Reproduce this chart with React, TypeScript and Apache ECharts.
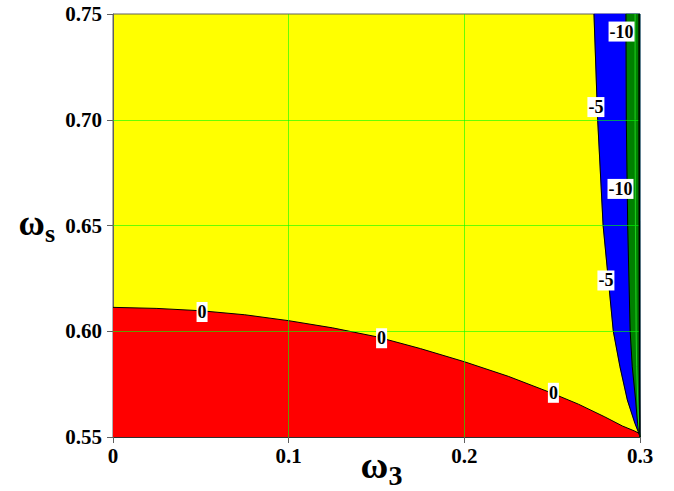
import React, { useEffect, useRef } from 'react';
import * as echarts from 'echarts';

const FONT = '"Liberation Serif", "Times New Roman", serif';

// axes
const xMin = 0;
const xMax = 0.3;
const xStep = 0.1;
const yMin = 0.55;
const yMax = 0.75;
const yStep = 0.05;
const xGridValues = [0.1, 0.2];
const yGridValues = [0.6, 0.65, 0.7];

// level 0 contour (red / yellow boundary): omega3 -> omegaS
const zeroX = [0, 0.025, 0.05, 0.075, 0.1, 0.125, 0.15, 0.175, 0.2, 0.225, 0.25, 0.265, 0.28, 0.29, 0.297, 0.3];
const zeroY = [0.6113, 0.6108, 0.6097, 0.6078, 0.605, 0.6016, 0.5974, 0.5918, 0.5856, 0.5787, 0.5707, 0.5655, 0.5595, 0.5552, 0.5528, 0.5515];

// steep contours near omega3 = 0.3: omegaS levels and omega3 positions
const levelY = [0.75, 0.7, 0.65, 0.6, 0.5832, 0.5675, 0.5565, 0.5525, 0.55];
const minus5X = [0.2738, 0.2759, 0.279, 0.2848, 0.2886, 0.2928, 0.2971, 0.299, 0.3];
const minus10X = [0.292, 0.2922, 0.293, 0.2944, 0.2956, 0.2975, 0.2986, 0.2994, 0.3];
const minus15X = [0.2972, 0.2972, 0.2974, 0.2978, 0.2981, 0.2987, 0.2992, 0.2997, 0.3];
const minus20X = [0.2995, 0.2995, 0.2996, 0.2997, 0.2997, 0.2998, 0.2999, 0.2999, 0.3];

// contour labels
const labelText = ['0', '0', '0', '-10', '-5', '-10', '-5'];
const labelX = [0.0507, 0.1529, 0.2507, 0.2895, 0.2749, 0.2889, 0.2806];
const labelY = [0.6091, 0.5967, 0.5709, 0.7417, 0.706, 0.6673, 0.624];

const YELLOW = '#ffff00';
const RED = '#ff0000';
const BLUE = '#0000ff';
const GREEN = '#008000';

function regionRenderer(xs: number[], fill: string) {
  return (_params: any, api: any) => {
    const pts = levelY.map((y, i) => api.coord([xs[i], y]));
    const poly = pts.concat([api.coord([xMax, yMin]), api.coord([xMax, yMax])]);
    return {
      type: 'group',
      children: [
        { type: 'polygon', shape: { points: poly }, style: { fill, stroke: fill, lineWidth: 0.5 } },
        { type: 'polyline', shape: { points: pts }, style: { stroke: '#000', lineWidth: 1, fill: null } },
      ],
    };
  };
}

export default function App() {
  const ref = useRef<HTMLDivElement>(null);
  useEffect(() => {
    if (!ref.current) return;
    const chart = echarts.init(ref.current, undefined, { renderer: 'svg' });
    const option: any = {
      animation: false,
      backgroundColor: '#ffffff',
      grid: {
        left: 113,
        right: 34,
        top: 14,
        bottom: 54,
        show: true,
        backgroundColor: YELLOW,
        borderColor: '#606060',
        borderWidth: 1,
        containLabel: false,
        outerBoundsMode: 'none',
      },
      xAxis: {
        type: 'value',
        min: xMin,
        max: xMax,
        interval: xStep,
        name: '{a|ω}{b|3}',
        nameLocation: 'middle',
        nameGap: 4,
        nameMoveOverlap: false,
        nameTextStyle: {
          padding: [0, 0, 0, 10],
          rich: {
            a: { fontFamily: FONT, fontWeight: 'bold', fontSize: 38, color: '#000' },
            b: { fontFamily: FONT, fontWeight: 'bold', fontSize: 28, color: '#000', padding: [20, 0, 0, 0] },
          },
        },
        axisLine: { show: true, lineStyle: { color: '#303030', width: 1 } },
        axisTick: { show: true, inside: false, length: 6, lineStyle: { color: '#606060' } },
        splitLine: { show: false },
        axisLabel: {
          margin: 8,
          fontFamily: FONT,
          fontWeight: 'bold',
          fontSize: 21,
          color: '#000',
          formatter: (v: number) => (v === 0 ? '0' : v.toFixed(1)),
        },
      },
      yAxis: {
        type: 'value',
        min: yMin,
        max: yMax,
        interval: yStep,
        name: '{a|ω}{b|s}',
        nameLocation: 'middle',
        nameRotate: 0,
        nameGap: 58,
        nameMoveOverlap: false,
        nameTextStyle: {
          padding: [0, 0, 6, 0],
          rich: {
            a: { fontFamily: FONT, fontWeight: 'bold', fontSize: 36, color: '#000' },
            b: { fontFamily: FONT, fontWeight: 'bold', fontSize: 26, color: '#000', padding: [22, 0, 0, 0] },
          },
        },
        axisLine: { show: true, lineStyle: { color: '#606060', width: 1 } },
        axisTick: { show: true, inside: false, length: 6, lineStyle: { color: '#606060' } },
        splitLine: { show: false },
        axisLabel: {
          margin: 11,
          fontFamily: FONT,
          fontWeight: 'bold',
          fontSize: 21,
          color: '#000',
          formatter: (v: number) => v.toFixed(2),
        },
      },
      series: [
        {
          type: 'line',
          name: 'level0',
          z: 2,
          data: zeroX.map((x, i) => [x, zeroY[i]]),
          symbol: 'none',
          lineStyle: { color: '#000', width: 1 },
          areaStyle: { color: RED, opacity: 1, origin: 'start' },
          silent: true,
        },
        {
          type: 'custom',
          name: 'level-5',
          z: 3,
          renderItem: regionRenderer(minus5X, BLUE),
          data: [[xMax, yMax]],
          silent: true,
        },
        {
          type: 'custom',
          name: 'level-10',
          z: 4,
          renderItem: regionRenderer(minus10X, GREEN),
          data: [[xMax, yMax]],
          silent: true,
        },
        {
          type: 'line',
          name: 'level-15',
          z: 5,
          data: minus15X.map((x, i) => [x, levelY[i]]),
          symbol: 'none',
          lineStyle: { color: '#20d020', width: 1 },
          silent: true,
        },
        {
          type: 'line',
          name: 'level-20',
          z: 5,
          data: minus20X.map((x, i) => [x, levelY[i]]),
          symbol: 'none',
          lineStyle: { color: '#000', width: 1.5 },
          silent: true,
        },
        {
          type: 'scatter',
          name: 'labels',
          z: 10,
          symbolSize: 0,
          silent: true,
          itemStyle: { opacity: 1 },
          data: labelX.map((x, i) => ({ value: [x, labelY[i]], name: labelText[i] })),
          label: {
            show: true,
            position: 'inside',
            formatter: (p: any) => p.name,
            fontFamily: FONT,
            fontWeight: 'bold',
            fontSize: 18,
            color: '#000',
            opacity: 1,
            backgroundColor: '#ffffff',
            padding: [1, 1, 0, 1],
            lineHeight: 19,
          },
          markLine: {
            silent: true,
            symbol: ['none', 'none'],
            label: { show: false },
            lineStyle: { color: 'rgba(0,255,0,0.6)', width: 1, type: 'solid', opacity: 1 },
            data: [
              ...xGridValues.map((v) => ({ xAxis: v })),
              ...yGridValues.map((v) => ({ yAxis: v })),
            ],
          },
        },
      ],
    };
    chart.setOption(option);
    return () => chart.dispose();
  }, []);
  return <div ref={ref} style={{ width: 674, height: 491, position: 'absolute', left: 0, top: 0 }} />;
}
